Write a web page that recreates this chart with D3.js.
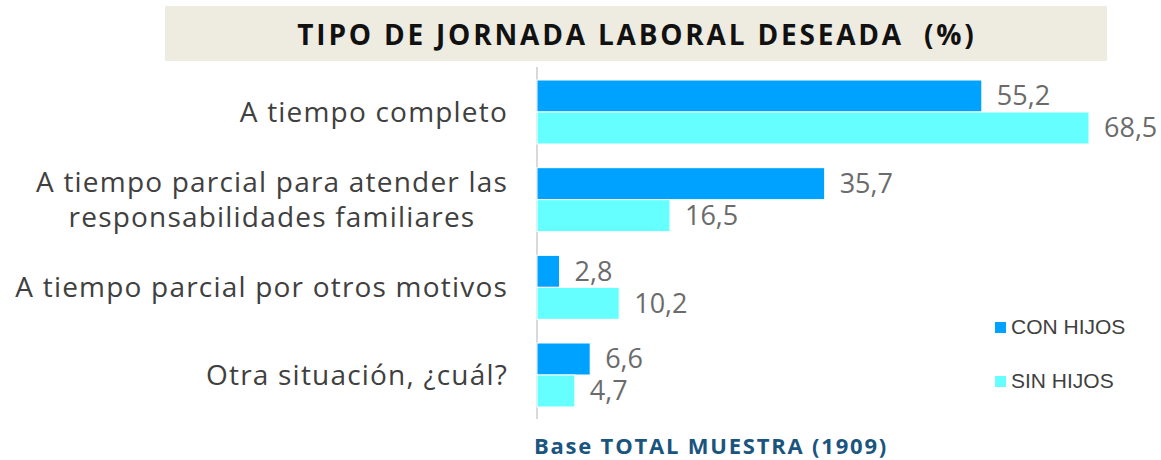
<!DOCTYPE html>
<html>
<head>
  <meta charset="utf-8">
  <title>Tipo de jornada laboral deseada</title>
  <script src="https://d3js.org/d3.v7.min.js"></script>
  <style>
    body { margin: 0; background: white; }
  </style>
</head>
<body>
  <script>
    var categories = [
      ["A tiempo completo"],
      ["A tiempo parcial para atender las", "responsabilidades familiares"],
      ["A tiempo parcial por otros motivos"],
      ["Otra situación, ¿cuál?"]
    ];
    var seriesNames = ["CON HIJOS", "SIN HIJOS"];
    var conHijos = [55.2, 35.7, 2.8, 6.6];
    var sinHijos = [68.5, 16.5, 10.2, 4.7];
    var colors = ["#00A2FF", "#66FFFF"];

    var width = 1161, height = 460;
    var svg = d3.select("body").append("svg")
      .attr("width", width)
      .attr("height", height);

    // title box
    svg.append("rect")
      .attr("x", 165).attr("y", 6)
      .attr("width", 942).attr("height", 55)
      .attr("fill", "#EEEBE0");
    svg.append("text")
      .attr("x", 637).attr("y", 45)
      .attr("text-anchor", "middle")
      .style("font", "bold 28px 'Open Sans', sans-serif")
      .style("letter-spacing", "2.8px")
      .style("white-space", "pre")
      .attr("fill", "#111")
      .text("TIPO DE JORNADA LABORAL DESEADA  (%)");

    var keys = categories.map(function(c, i) { return i; });
    var x = d3.scaleLinear().domain([0, 68.5]).range([537, 1089]);
    var y = d3.scaleBand().domain(keys).range([80, 407]).paddingInner(0.27).paddingOuter(0);
    var ySub = d3.scaleBand().domain([0, 1]).range([0, y.bandwidth()]);

    // axis line
    svg.append("line")
      .attr("x1", x(0)).attr("x2", x(0))
      .attr("y1", 67).attr("y2", 419)
      .attr("stroke", "#D9D9D9").attr("stroke-width", 2);

    var rows = keys.map(function(i) {
      return { i: i, values: [conHijos[i], sinHijos[i]] };
    });

    var groups = svg.selectAll("g.cat").data(rows).enter()
      .append("g").attr("class", "cat")
      .attr("transform", function(d) { return "translate(0," + y(d.i) + ")"; });

    groups.selectAll("rect").data(function(d) { return d.values; }).enter()
      .append("rect")
      .attr("x", x(0))
      .attr("y", function(d, j) { return ySub(j); })
      .attr("width", function(d) { return x(d) - x(0); })
      .attr("height", ySub.bandwidth())
      .attr("fill", function(d, j) { return colors[j]; })
      .attr("stroke", "white").attr("stroke-width", 1);

    groups.selectAll("text.val").data(function(d) { return d.values; }).enter()
      .append("text").attr("class", "val")
      .attr("x", function(d) { return x(d) + 15; })
      .attr("y", function(d, j) { return ySub(j) + ySub.bandwidth() / 2; })
      .attr("dy", "0.35em")
      .style("font", "27px 'Open Sans', sans-serif")
      .attr("fill", "#6b6b6b")
      .text(function(d) { return d.toFixed(1).replace(".", ","); });

    // category labels (multi-line ones are centred as a block)
    groups.append("text")
      .style("font", "28px 'Open Sans', sans-serif")
      .style("letter-spacing", "1.2px")
      .attr("fill", "#404040")
      .each(function(d) {
        var lines = categories[d.i];
        var t = d3.select(this);
        lines.forEach(function(l, k) {
          t.append("tspan")
            .attr("y", y.bandwidth() / 2 + (k - (lines.length - 1) / 2) * 35)
            .attr("dy", "0.35em")
            .text(l);
        });
        var tspans = t.selectAll("tspan");
        var widths = tspans.nodes().map(function(n) { return n.getComputedTextLength(); });
        var maxW = d3.max(widths);
        tspans.attr("x", 508 - maxW / 2)
          .attr("text-anchor", "middle");
      });

    // legend
    var legend = svg.selectAll("g.leg").data(seriesNames).enter()
      .append("g").attr("class", "leg")
      .attr("transform", function(d, j) { return "translate(995," + (327 + j * 54) + ")"; });
    legend.append("rect")
      .attr("x", 0).attr("y", -5).attr("width", 11).attr("height", 11)
      .attr("fill", function(d, j) { return colors[j]; });
    legend.append("text")
      .attr("x", 16).attr("dy", "0.35em")
      .style("font", "21px 'Liberation Sans', Arial, sans-serif")
      .attr("fill", "#404040")
      .text(function(d) { return d; });

    svg.append("text")
      .attr("x", 711).attr("y", 454)
      .attr("text-anchor", "middle")
      .style("font", "bold 22px 'Open Sans', sans-serif")
      .style("letter-spacing", "1.8px")
      .attr("fill", "#1A5580")
      .text("Base TOTAL MUESTRA (1909)");
  </script>
</body>
</html>
